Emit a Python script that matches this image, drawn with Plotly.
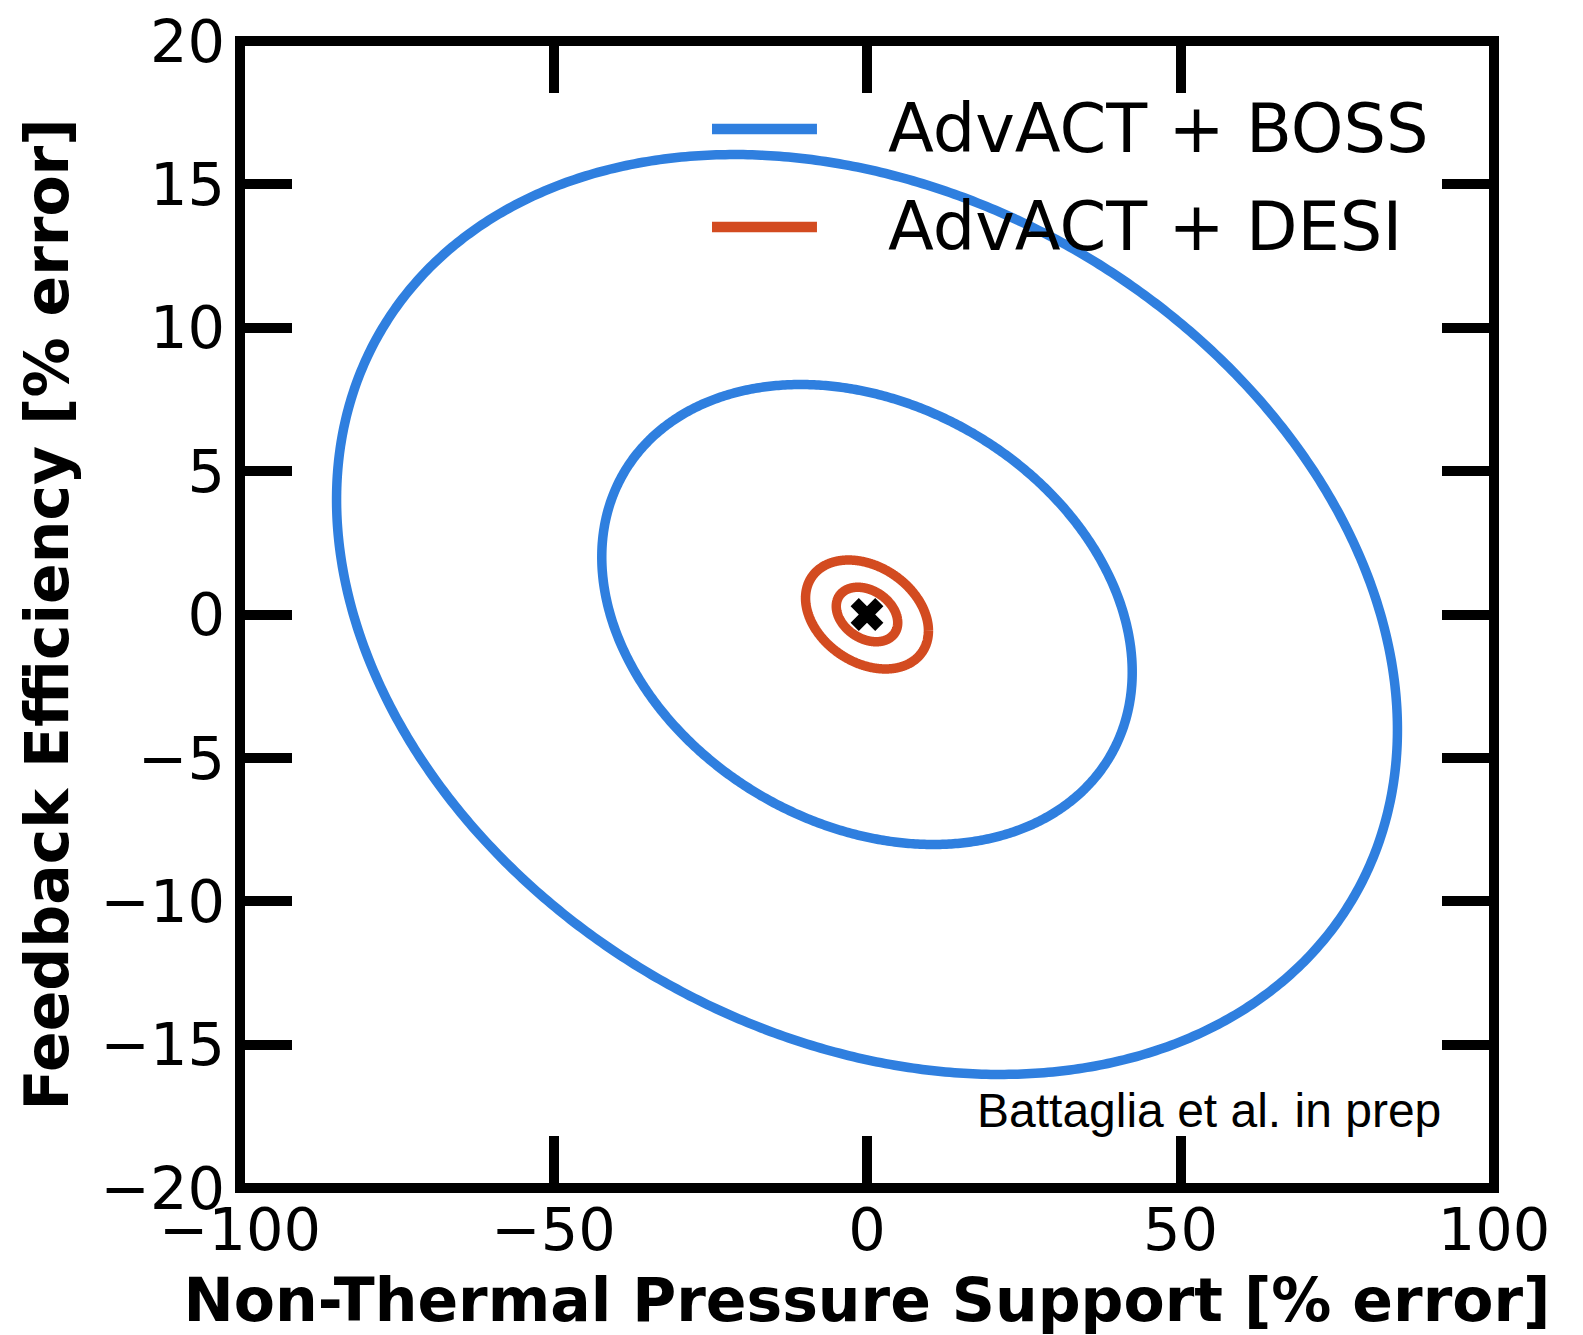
import numpy as np
import plotly.graph_objects as go

# ---------------- data ----------------
x_ticks = [-100, -50, 0, 50, 100]
x_tick_labels = ["\u2212100", "\u221250", "0", "50", "100"]
y_ticks = [-20, -15, -10, -5, 0, 5, 10, 15, 20]
y_tick_labels = ["\u221220", "\u221215", "\u221210", "\u22125", "0", "5", "10", "15", "20"]

series_names = ["AdvACT + BOSS", "AdvACT + DESI"]
series_colors = ["#2F7FDF", "#D34B20"]
# forecast 1-sigma errors [% error] and correlation for each survey combination
sigma_nonthermal = [42.3, 4.9]
sigma_feedback = [8.02, 0.95]
correlation = [-0.25, -0.30]
contour_levels = [1, 2]          # 1σ and 2σ contours
fiducial_x = [0.0]
fiducial_y = [0.0]

# ---------------- figure ----------------
W, H = 1583, 1335
L, R, T, B = 240, 89, 41, 147

fig = go.Figure()
t = np.linspace(0, 2 * np.pi, 721)
for name, col, sx, sy, rho in zip(series_names, series_colors,
                                  sigma_nonthermal, sigma_feedback, correlation):
    for k in contour_levels:
        ex = k * sx * np.cos(t)
        ey = k * sy * (rho * np.cos(t) + np.sqrt(1 - rho ** 2) * np.sin(t))
        fig.add_trace(go.Scatter(x=ex, y=ey, mode="lines", name=name,
                                 line=dict(color=col, width=9.5, simplify=False),
                                 showlegend=False, hoverinfo="skip"))

fig.add_trace(go.Scatter(x=fiducial_x, y=fiducial_y, mode="markers",
                         marker=dict(symbol="x", size=29, color="black",
                                     line=dict(width=0)),
                         showlegend=False, name="fiducial"))

axis_common = dict(
    ticks="inside", ticklen=52, tickwidth=10, tickcolor="black",
    showline=False, mirror="allticks", showgrid=False, zeroline=False,
    tickfont=dict(family="DejaVu Sans", size=59, color="black"),
)

fig.update_xaxes(range=[-100, 100], tickvals=x_ticks, ticktext=x_tick_labels,
                 ticklabelstandoff=2,
                 title=dict(text="Non-Thermal Pressure Support [% error]",
                            font=dict(family="DejaVu Sans", size=60,
                                      color="black", weight="bold"),
                            standoff=22),
                 **axis_common)
fig.update_yaxes(range=[-20, 20], tickvals=y_ticks, ticktext=y_tick_labels,
                 ticklabelstandoff=14,
                 title=dict(text="Feedback Efficiency [% error]",
                            font=dict(family="DejaVu Sans", size=60,
                                      color="black", weight="bold"),
                            standoff=12),
                 **axis_common)

# frame (matplotlib-style spines centred on the axes edge)
fig.add_shape(type="rect", xref="paper", yref="paper", x0=0, x1=1, y0=0, y1=1,
              line=dict(color="black", width=10), layer="above")

# legend drawn in the upper-right corner
legend_y = [0.9233, 0.8378]
for name, col, ly in zip(series_names, series_colors, legend_y):
    fig.add_shape(type="line", xref="paper", yref="paper",
                  x0=0.3764, x1=0.4601, y0=ly, y1=ly,
                  line=dict(color=col, width=10.5))
    fig.add_annotation(text=name, xref="paper", yref="paper", x=0.515, y=ly,
                       xanchor="left", yanchor="middle", showarrow=False,
                       font=dict(family="DejaVu Sans", size=67, color="black"))

fig.add_annotation(text="Battaglia et al. in prep", xref="paper", yref="paper",
                   x=0.959, y=0.0677, xanchor="right", yanchor="middle",
                   showarrow=False,
                   font=dict(family="Liberation Sans", size=48, color="black"))

fig.update_layout(width=W, height=H, margin=dict(l=L, r=R, t=T, b=B, autoexpand=False),
                  paper_bgcolor="white", plot_bgcolor="white", showlegend=False)

fig.write_html("out.html")
